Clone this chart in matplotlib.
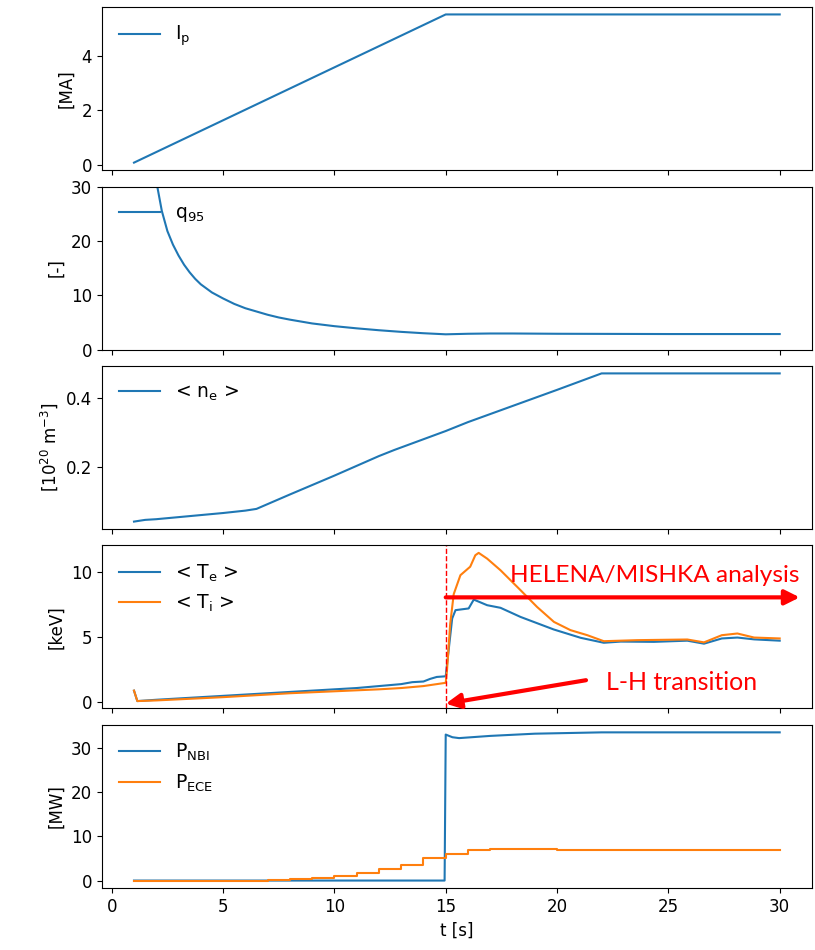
import matplotlib
matplotlib.use("Agg")
import matplotlib.pyplot as plt

plt.rcParams['font.size'] = 12

# plasma current
t_ip = [1.0, 15.0, 30.0]
ip = [0.1, 5.5, 5.5]

# safety factor q95
t_q = [1.0, 1.5, 1.75, 2.0, 2.25, 2.5, 2.75, 3.0, 3.25, 3.5, 3.75, 4.0, 4.5, 5.0, 5.5,
       6.0, 6.5, 7.0, 7.5, 8.0, 9.0, 10.0, 11.0, 12.0, 13.0, 14.0, 15.0, 16.0, 17.0,
       18.0, 20.0, 25.0, 30.0]
q95 = [150.0, 53.0, 39.0, 31.0, 25.5, 21.8, 19.3, 17.3, 15.6, 14.2, 13.0, 12.0, 10.5,
       9.4, 8.4, 7.6, 7.0, 6.4, 5.9, 5.5, 4.8, 4.3, 3.9, 3.55, 3.25, 3.0, 2.8, 2.9,
       2.95, 2.95, 2.9, 2.85, 2.85]

# line averaged density
t_ne = [1.0, 1.5, 2.0, 3.0, 4.0, 5.0, 6.0, 6.5, 8.0, 10.0, 12.0, 12.7, 15.0,
        16.0, 18.0, 20.0, 22.0, 30.0]
ne = [0.041, 0.046, 0.048, 0.054, 0.060, 0.066, 0.073, 0.078, 0.12, 0.175, 0.232,
      0.25, 0.305, 0.331, 0.378, 0.425, 0.473, 0.473]

# temperatures
t_te = [1.0, 1.15, 2.0, 5.0, 8.0, 10.0, 11.0, 12.0, 13.0, 13.5, 14.0, 14.3, 14.6, 15.0,
        15.29, 15.44, 16.03, 16.26, 16.86, 17.46, 18.36, 19.85, 21.06, 22.1, 22.86,
        24.35, 25.85, 26.6, 27.4, 28.1, 28.85, 30.0]
te = [0.9, 0.1, 0.2, 0.5, 0.8, 1.0, 1.1, 1.25, 1.4, 1.55, 1.6, 1.8, 1.95, 2.0,
      6.43, 7.07, 7.2, 7.88, 7.45, 7.25, 6.55, 5.59, 4.95, 4.57, 4.66,
      4.64, 4.73, 4.5, 4.9, 4.97, 4.83, 4.73]
t_ti = [1.0, 1.15, 2.0, 5.0, 8.0, 10.0, 12.0, 13.0, 14.0, 15.0, 15.06, 15.2, 15.36,
        15.66, 16.1, 16.33, 16.48, 16.86, 17.46, 18.36, 19.1, 19.86, 20.6, 21.36,
        22.1, 23.6, 25.85, 26.6, 27.4, 28.1, 28.85, 30.0]
ti = [0.9, 0.1, 0.15, 0.4, 0.7, 0.85, 1.0, 1.1, 1.25, 1.5, 2.5, 6.0, 8.3,
      9.75, 10.4, 11.28, 11.46, 11.02, 10.13, 8.6, 7.32, 6.17, 5.54, 5.15,
      4.69, 4.77, 4.82, 4.6, 5.15, 5.28, 4.97, 4.9]

# heating powers
t_nbi = [1.0, 14.95, 15.0, 15.3, 15.6, 17.0, 19.0, 22.0, 30.0]
p_nbi = [0.0, 0.0, 33.0, 32.4, 32.2, 32.7, 33.2, 33.5, 33.5]
t_ece = [1.0, 7.0, 8.0, 9.0, 10.0, 11.0, 12.0, 13.0, 14.0, 15.0, 16.0, 17.0, 20.0, 30.0]
p_ece = [0.0, 0.15, 0.3, 0.6, 1.1, 1.7, 2.5, 3.6, 5.0, 5.9, 6.9, 7.1, 7.0, 7.0]

blue = '#1f77b4'
orange = '#ff7f0e'

fig, axs = plt.subplots(5, 1, sharex=True, figsize=(8.15, 9.5), dpi=100)
fig.subplots_adjust(left=0.1248, right=0.9963, top=0.9926, bottom=0.0653, hspace=0.101)

leg_kw = dict(loc='upper left', frameon=False, fontsize=13.5, handlelength=2.2)

ax = axs[0]
ax.plot(t_ip, ip, color=blue, label=r'I$_\mathrm{p}$')
ax.set_ylabel('[MA]')
ax.legend(**leg_kw)

ax = axs[1]
ax.plot(t_q, q95, color=blue, label=r'q$_{95}$')
ax.set_ylim(0, 30)
ax.set_ylabel('[-]')
ax.legend(**leg_kw)

ax = axs[2]
ax.plot(t_ne, ne, color=blue, label=r'< n$_\mathrm{e}$ >')
ax.set_ylabel(r'[10$^{20}$ m$^{-3}$]')
ax.legend(**leg_kw)

ax = axs[3]
ax.plot(t_te, te, color=blue, label=r'< T$_\mathrm{e}$ >')
ax.plot(t_ti, ti, color=orange, label=r'< T$_\mathrm{i}$ >')
ax.set_ylabel('[keV]')
ax.legend(**leg_kw)
ax.axvline(15.0, color='red', ls='--', lw=1.0)
ax.annotate('', xy=(30.9, 8.05), xytext=(15.0, 8.05),
            arrowprops=dict(arrowstyle='-|>', color='red', lw=3.0, mutation_scale=22,
                            shrinkA=0, shrinkB=0))
ax.text(30.9, 9.7, 'HELENA/MISHKA analysis', color='red', family='Lato',
        fontsize=17.6, ha='right', va='center')
ax.annotate('', xy=(15.0, -0.1), xytext=(21.3, 1.7),
            arrowprops=dict(arrowstyle='-|>', color='red', lw=3.0, mutation_scale=22,
                            shrinkA=0, shrinkB=0))
ax.text(22.2, 1.55, 'L-H transition', color='red', family='Lato',
        fontsize=18, ha='left', va='center')

ax = axs[4]
ax.plot(t_nbi, p_nbi, color=blue, label=r'P$_\mathrm{NBI}$')
ax.plot(t_ece, p_ece, color=orange, drawstyle='steps-post', label=r'P$_\mathrm{ECE}$')
ax.set_ylabel('[MW]')
ax.set_xlabel('t [s]')
ax.legend(**leg_kw)

fig.savefig('out.png', dpi=100)
